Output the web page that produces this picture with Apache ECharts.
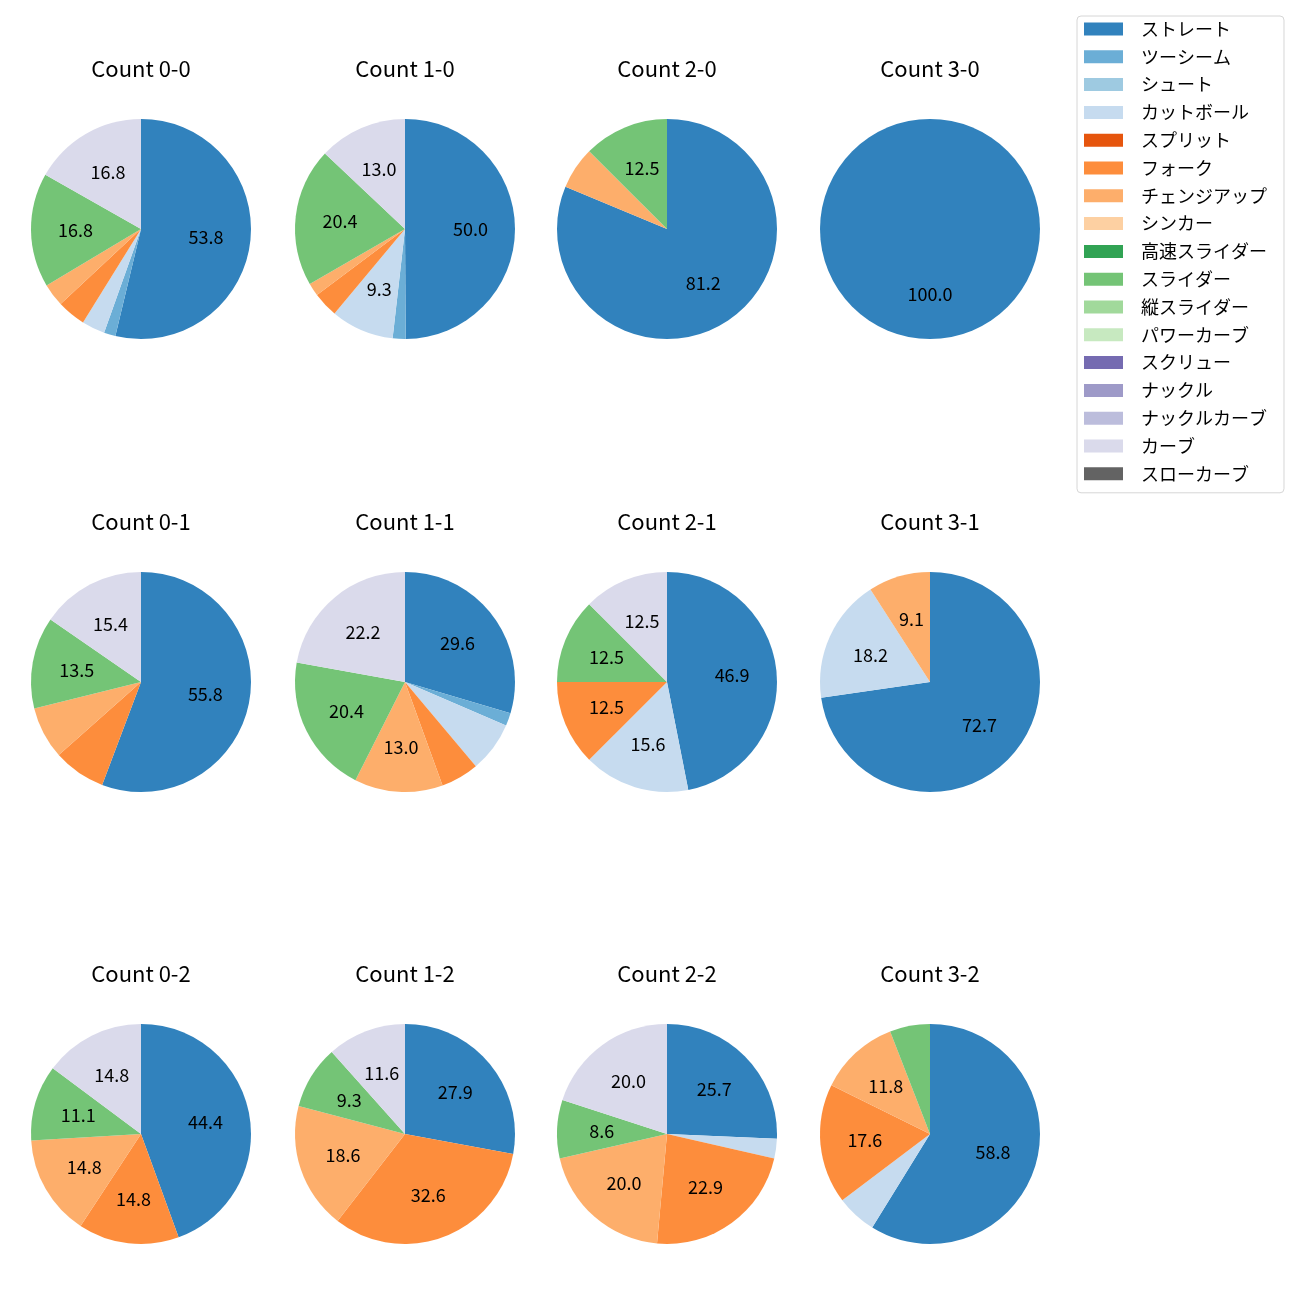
<!DOCTYPE html>
<html>
<head>
<meta charset="utf-8">
<script src="https://cdn.jsdelivr.net/npm/echarts@6/dist/echarts.min.js"></script>
<style>
html,body{margin:0;padding:0;background:#fff;}
#chart{width:1300px;height:1300px;}
</style>
</head>
<body>
<div id="chart"></div>
<script>
// Pitch type categories (legend order)
const pitchTypes = ['ストレート','ツーシーム','シュート','カットボール','スプリット','フォーク','チェンジアップ','シンカー','高速スライダー','スライダー','縦スライダー','パワーカーブ','スクリュー','ナックル','ナックルカーブ','カーブ','スローカーブ'];

// Subplot titles (row-major: balls 0..3, strikes 0..2)
const countTitles = ['Count 0-0','Count 1-0','Count 2-0','Count 3-0',
                     'Count 0-1','Count 1-1','Count 2-1','Count 3-1',
                     'Count 0-2','Count 1-2','Count 2-2','Count 3-2'];

// Percent share per pitch type, in pitchTypes order
const count00 = [53.8, 1.7, 0, 3.4, 0, 4.2, 3.4, 0, 0, 16.8, 0, 0, 0, 0, 0, 16.8, 0];
const count10 = [50.0, 1.9, 0, 9.3, 0, 3.7, 1.9, 0, 0, 20.4, 0, 0, 0, 0, 0, 13.0, 0];
const count20 = [81.2, 0, 0, 0, 0, 0, 6.2, 0, 0, 12.5, 0, 0, 0, 0, 0, 0, 0];
const count30 = [100.0, 0, 0, 0, 0, 0, 0, 0, 0, 0, 0, 0, 0, 0, 0, 0, 0];
const count01 = [55.8, 0, 0, 0, 0, 7.7, 7.7, 0, 0, 13.5, 0, 0, 0, 0, 0, 15.4, 0];
const count11 = [29.6, 1.9, 0, 7.4, 0, 5.6, 13.0, 0, 0, 20.4, 0, 0, 0, 0, 0, 22.2, 0];
const count21 = [46.9, 0, 0, 15.6, 0, 12.5, 0, 0, 0, 12.5, 0, 0, 0, 0, 0, 12.5, 0];
const count31 = [72.7, 0, 0, 18.2, 0, 0, 9.1, 0, 0, 0, 0, 0, 0, 0, 0, 0, 0];
const count02 = [44.4, 0, 0, 0, 0, 14.8, 14.8, 0, 0, 11.1, 0, 0, 0, 0, 0, 14.8, 0];
const count12 = [27.9, 0, 0, 0, 0, 32.6, 18.6, 0, 0, 9.3, 0, 0, 0, 0, 0, 11.6, 0];
const count22 = [25.7, 0, 0, 2.9, 0, 22.9, 20.0, 0, 0, 8.6, 0, 0, 0, 0, 0, 20.0, 0];
const count32 = [58.8, 0, 0, 5.9, 0, 17.6, 11.8, 0, 0, 5.9, 0, 0, 0, 0, 0, 0, 0];

const pieValues = [count00, count10, count20, count30,
                   count01, count11, count21, count31,
                   count02, count12, count22, count32];

// Styling
const palette = ['#3182bd','#6baed6','#9ecae1','#c6dbef','#e6550d','#fd8d3c','#fdae6b','#fdd0a2',
                 '#31a354','#74c476','#a1d99b','#c7e9c0','#756bb1','#9e9ac8','#bcbddc','#dadaeb','#636363'];
const FONT = '"Noto Sans CJK JP", "Noto Sans", sans-serif';
const colX = [141, 405, 667, 930];
const rowY = [229, 682, 1134];
const R = 110;
const labelThreshold = 8;

const titles = [];
const mainSeries = [];
const labelSeries = [];
pieValues.forEach((vals, i) => {
  const cx = colX[i % 4], cy = rowY[Math.floor(i / 4)];
  titles.push({
    text: countTitles[i], left: cx, top: cy - 171, textAlign: 'center', padding: 0,
    textStyle: {fontFamily: FONT, fontSize: 22, fontWeight: 'normal', color: '#000'}
  });
  const data = vals.map((v, k) => ({name: pitchTypes[k], value: v, itemStyle: {color: palette[k]}}));
  mainSeries.push({
    type: 'pie', center: [cx, cy], radius: [0, R], startAngle: 90, clockwise: true,
    silent: true, animation: false, label: {show: false}, labelLine: {show: false},
    emphasis: {disabled: true}, data: data
  });
  labelSeries.push({
    type: 'pie', center: [cx, cy], radius: [0, R * 1.135], startAngle: 90, clockwise: true,
    silent: true, animation: false, labelLine: {show: false}, emphasis: {disabled: true},
    itemStyle: {color: 'rgba(0,0,0,0)'},
    label: {
      show: true, position: 'inside', color: '#000', fontFamily: FONT, fontSize: 18,
      formatter: p => (p.value >= labelThreshold ? p.value.toFixed(1) : '')
    },
    data: vals.map((v, k) => ({name: pitchTypes[k], value: v, itemStyle: {color: 'rgba(0,0,0,0)'}}))
  });
});

const chart = echarts.init(document.getElementById('chart'), null, {renderer: 'canvas'});
chart.setOption({
  backgroundColor: '#fff',
  animation: false,
  title: titles,
  legend: {
    orient: 'vertical', left: 1077, top: 16,
    padding: [4, 17, 10, 7], itemGap: 9.8, itemWidth: 39, itemHeight: 13,
    icon: 'rect', borderColor: '#d6d6d6', borderWidth: 1, borderRadius: 4,
    selectedMode: false,
    textStyle: {fontFamily: FONT, fontSize: 18, lineHeight: 18, color: '#000', padding: [0, 0, 0, 13]},
    data: pitchTypes.map((n, k) => ({name: n, itemStyle: {color: palette[k]}}))
  },
  series: mainSeries.concat(labelSeries)
});
</script>
</body>
</html>
